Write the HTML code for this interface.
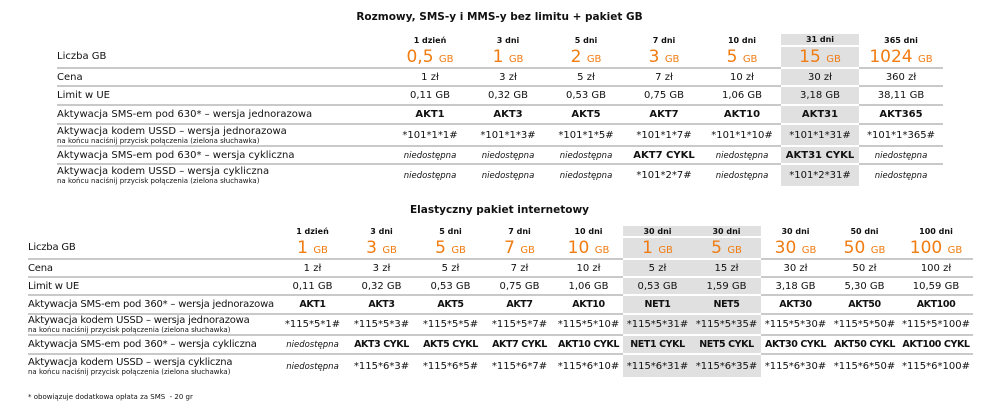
<!DOCTYPE html>
<html><head><meta charset="utf-8"><style>
body{margin:0;width:999px;height:411px;background:#fff;font-family:"DejaVu Sans","Liberation Sans",sans-serif;color:#111;position:relative;overflow:hidden}
.t{position:absolute;font-weight:bold;font-size:10.5px;text-align:center;width:999px;left:0}
table{position:absolute;border-collapse:collapse;table-layout:fixed}
td{padding:0;text-align:center;font-size:10px;border-bottom:2px solid #c9c9c9;white-space:nowrap;overflow:visible;vertical-align:middle}
td.l{text-align:left;font-size:10px}
tr.h td{border-bottom:none;font-weight:bold;font-size:8px}
td.s{background:#e0e0e0;border-bottom:2px solid #fff}
tr.h td.s{border-bottom:2px solid #fff}
tr.last td{border-bottom:none}
.o{color:#f07c12;font-size:17px}
.o small{font-size:10px}
b{font-size:10px}
.t2 b{font-size:9.5px;letter-spacing:-0.4px}
.t2 td.l{letter-spacing:-0.2px}
i{font-size:8.5px}
.sm{font-size:7px;display:block;line-height:8px;letter-spacing:0}
.lb{line-height:11px}
</style></head><body>
<div class="t" style="top:11px">Rozmowy, SMS-y i MMS-y bez limitu + pakiet GB</div>
<table style="left:57px;top:34px;width:886px">
<colgroup><col style="width:334px"><col style="width:78px"><col style="width:78px"><col style="width:78px"><col style="width:78px"><col style="width:78px"><col style="width:78px"><col style="width:84px"></colgroup>
<tr class="h" style="height:12px"><td></td><td>1 dzień</td><td>3 dni</td><td>5 dni</td><td>7 dni</td><td>10 dni</td><td class="s">31 dni</td><td>365 dni</td></tr>
<tr style="height:18px"><td class="l">Liczba GB</td><td class="o">0,5 <small>GB</small></td><td class="o">1 <small>GB</small></td><td class="o">2 <small>GB</small></td><td class="o">3 <small>GB</small></td><td class="o">5 <small>GB</small></td><td class="o s">15 <small>GB</small></td><td class="o">1024 <small>GB</small></td></tr>
<tr style="height:18px"><td class="l">Cena</td><td>1 zł</td><td>3 zł</td><td>5 zł</td><td>7 zł</td><td>10 zł</td><td class="s">30 zł</td><td>360 zł</td></tr>
<tr style="height:19px"><td class="l">Limit w UE</td><td>0,11 GB</td><td>0,32 GB</td><td>0,53 GB</td><td>0,75 GB</td><td>1,06 GB</td><td class="s">3,18 GB</td><td>38,11 GB</td></tr>
<tr style="height:19px"><td class="l">Aktywacja SMS-em pod 630* – wersja jednorazowa</td><td><b>AKT1</b></td><td><b>AKT3</b></td><td><b>AKT5</b></td><td><b>AKT7</b></td><td><b>AKT10</b></td><td class="s"><b>AKT31</b></td><td><b>AKT365</b></td></tr>
<tr style="height:22px"><td class="l lb">Aktywacja kodem USSD – wersja jednorazowa<span class="sm">na końcu naciśnij przycisk połączenia (zielona słuchawka)</span></td><td>*101*1*1#</td><td>*101*1*3#</td><td>*101*1*5#</td><td>*101*1*7#</td><td>*101*1*10#</td><td class="s">*101*1*31#</td><td>*101*1*365#</td></tr>
<tr style="height:18px"><td class="l">Aktywacja SMS-em pod 630* – wersja cykliczna</td><td><i>niedostępna</i></td><td><i>niedostępna</i></td><td><i>niedostępna</i></td><td><b>AKT7 CYKL</b></td><td><i>niedostępna</i></td><td class="s"><b>AKT31 CYKL</b></td><td><i>niedostępna</i></td></tr>
<tr class="last" style="height:22px"><td class="l lb">Aktywacja kodem USSD – wersja cykliczna<span class="sm">na końcu naciśnij przycisk połączenia (zielona słuchawka)</span></td><td><i>niedostępna</i></td><td><i>niedostępna</i></td><td><i>niedostępna</i></td><td>*101*2*7#</td><td><i>niedostępna</i></td><td class="s">*101*2*31#</td><td><i>niedostępna</i></td></tr>
</table>
<div class="t" style="top:204px">Elastyczny pakiet internetowy</div>
<table class="t2" style="left:28px;top:226px;width:945px">
<colgroup><col style="width:250px"><col style="width:69px"><col style="width:69px"><col style="width:69px"><col style="width:69px"><col style="width:69px"><col style="width:69px"><col style="width:69px"><col style="width:69px"><col style="width:69px"><col style="width:74px"></colgroup>
<tr class="h" style="height:11px"><td></td><td>1 dzień</td><td>3 dni</td><td>5 dni</td><td>7 dni</td><td>10 dni</td><td class="s">30 dni</td><td class="s">30 dni</td><td>30 dni</td><td>50 dni</td><td>100 dni</td></tr>
<tr style="height:20px"><td class="l">Liczba GB</td><td class="o">1 <small>GB</small></td><td class="o">3 <small>GB</small></td><td class="o">5 <small>GB</small></td><td class="o">7 <small>GB</small></td><td class="o">10 <small>GB</small></td><td class="o s">1 <small>GB</small></td><td class="o s">5 <small>GB</small></td><td class="o">30 <small>GB</small></td><td class="o">50 <small>GB</small></td><td class="o">100 <small>GB</small></td></tr>
<tr style="height:18px"><td class="l">Cena</td><td>1 zł</td><td>3 zł</td><td>5 zł</td><td>7 zł</td><td>10 zł</td><td class="s">5 zł</td><td class="s">15 zł</td><td>30 zł</td><td>50 zł</td><td>100 zł</td></tr>
<tr style="height:18px"><td class="l">Limit w UE</td><td>0,11 GB</td><td>0,32 GB</td><td>0,53 GB</td><td>0,75 GB</td><td>1,06 GB</td><td class="s">0,53 GB</td><td class="s">1,59 GB</td><td>3,18 GB</td><td>5,30 GB</td><td>10,59 GB</td></tr>
<tr style="height:19px"><td class="l">Aktywacja SMS-em pod 360* – wersja jednorazowa</td><td><b>AKT1</b></td><td><b>AKT3</b></td><td><b>AKT5</b></td><td><b>AKT7</b></td><td><b>AKT10</b></td><td class="s"><b>NET1</b></td><td class="s"><b>NET5</b></td><td><b>AKT30</b></td><td><b>AKT50</b></td><td><b>AKT100</b></td></tr>
<tr style="height:21px"><td class="l lb">Aktywacja kodem USSD – wersja jednorazowa<span class="sm">na końcu naciśnij przycisk połączenia (zielona słuchawka)</span></td><td>*115*5*1#</td><td>*115*5*3#</td><td>*115*5*5#</td><td>*115*5*7#</td><td>*115*5*10#</td><td class="s">*115*5*31#</td><td class="s">*115*5*35#</td><td>*115*5*30#</td><td>*115*5*50#</td><td>*115*5*100#</td></tr>
<tr style="height:19px"><td class="l">Aktywacja SMS-em pod 360* – wersja cykliczna</td><td><i>niedostępna</i></td><td><b>AKT3 CYKL</b></td><td><b>AKT5 CYKL</b></td><td><b>AKT7 CYKL</b></td><td><b>AKT10 CYKL</b></td><td class="s"><b>NET1 CYKL</b></td><td class="s"><b>NET5 CYKL</b></td><td><b>AKT30 CYKL</b></td><td><b>AKT50 CYKL</b></td><td><b>AKT100 CYKL</b></td></tr>
<tr class="last" style="height:23px"><td class="l lb">Aktywacja kodem USSD – wersja cykliczna<span class="sm">na końcu naciśnij przycisk połączenia (zielona słuchawka)</span></td><td><i>niedostępna</i></td><td>*115*6*3#</td><td>*115*6*5#</td><td>*115*6*7#</td><td>*115*6*10#</td><td class="s">*115*6*31#</td><td class="s">*115*6*35#</td><td>*115*6*30#</td><td>*115*6*50#</td><td>*115*6*100#</td></tr>
</table>
<div style="position:absolute;left:28px;top:393px;font-size:7px">* obowiązuje dodatkowa opłata za SMS &nbsp;- 20 gr</div>
</body></html>
